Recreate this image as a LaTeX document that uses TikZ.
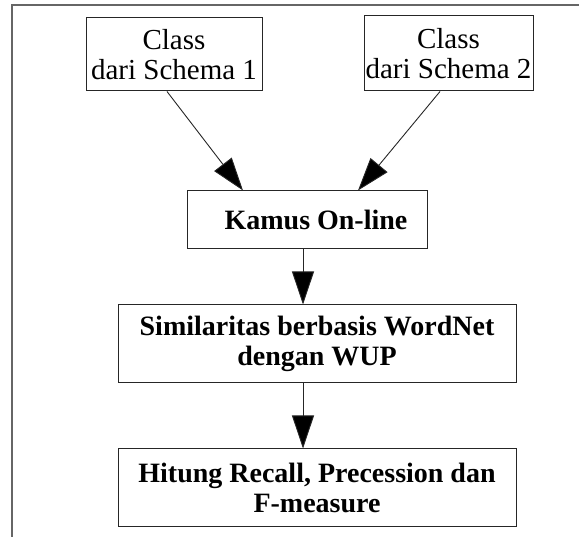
\documentclass[tikz,border=0pt]{standalone}
\usepackage{fontspec}
\setmainfont{Liberation Serif}
\usetikzlibrary{arrows.meta}

\begin{document}
\begin{tikzpicture}[x=1pt,y=-1pt]
\tikzstyle{box} = [draw=black!85, line width=1pt, inner sep=0pt, align=center, font=\fontsize{29}{30}\selectfont];
\tikzstyle{bbox} = [box, font=\fontsize{28}{30}\selectfont\bfseries];
\tikzstyle{arr} = [draw=black!85, line width=0.9pt, -{Triangle[length=33pt,width=22pt,fill=black]}];

\useasboundingbox (0,0) rectangle (579,537);
\draw[black!60, line width=1.3pt] (12,537) -- (12,5) -- (579,5);

% the two schema classes
\foreach \x/\cx/\cy/\w/\h in {1/174/54.5/176/73, 2/448.5/53.5/169/75}
	\node[box, minimum width=\w pt, minimum height=\h pt] (c-\x) at (\cx,\cy) {Class\\dari Schema \x};

\node[bbox, minimum width=240pt, minimum height=58pt] (kamus) at (307,220) {\hspace*{18pt}Kamus On-line};
\node[bbox, minimum width=398pt, minimum height=78pt] (wup) at (317,344) {Similaritas berbasis WordNet\\dengan WUP};
\node[bbox, minimum width=398pt, minimum height=78pt] (hitung) at (317,488) {Hitung Recall, Precession dan\\F-measure};

\draw[arr] ([xshift=-7pt]c-1.south) -- ([xshift=-64pt]kamus.north);
\draw[arr] ([xshift=-8.5pt]c-2.south) -- ([xshift=51pt]kamus.north);
\draw[arr] ([xshift=-4pt]kamus.south) -- ([xshift=-4pt]kamus.south |- wup.north);
\draw[arr] ([xshift=-14pt]wup.south) -- ([xshift=-14pt]wup.south |- hitung.north);
\end{tikzpicture}
\end{document}
